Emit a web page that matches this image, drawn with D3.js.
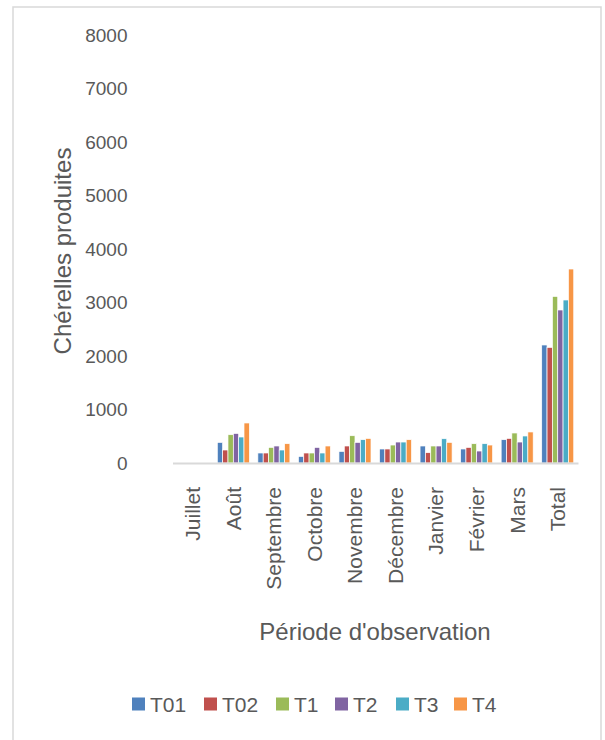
<html>

<head>
    <meta charset="utf-8">
    <script src="https://d3js.org/d3.v7.min.js"></script>
    <style>
        body { margin: 0; background: #fff; }
        text { font-family: "Liberation Sans", Arial, sans-serif; fill: #595959; }
    </style>
</head>

<body>
    <svg id="chartArea" width="605" height="740"></svg>
    <script>
        // months + total
        const categories = ["Juillet", "Août", "Septembre", "Octobre", "Novembre", "Décembre", "Janvier", "Février", "Mars", "Total"];
        const seriesNames = ["T01", "T02", "T1", "T2", "T3", "T4"];
        const colors = ["#4F81BD", "#C0504D", "#9BBB59", "#8064A2", "#4BACC6", "#F79646"];

        const T01 = [0, 385, 187, 123, 217, 262, 318, 262, 436, 2206];
        const T02 = [0, 243, 187, 187, 318, 262, 193, 292, 460, 2161];
        const T1 = [0, 529, 292, 187, 510, 336, 318, 361, 561, 3114];
        const T2 = [0, 553, 318, 292, 385, 392, 318, 224, 392, 2860];
        const T3 = [0, 486, 243, 187, 436, 392, 454, 361, 505, 3047];
        const T4 = [0, 748, 361, 318, 460, 436, 386, 336, 580, 3626];
        const yTicks = [0, 1000, 2000, 3000, 4000, 5000, 6000, 7000, 8000];

        const seriesValues = [T01, T02, T1, T2, T3, T4];

        const svg = d3.select("#chartArea");
        const margins = { top: 35, right: 27, bottom: 277, left: 172.5 };
        const width = +svg.attr("width");
        const height = +svg.attr("height");
        const chartWidth = width - margins.left - margins.right;
        const chartHeight = height - margins.top - margins.bottom;

        // outer frame
        svg.append("rect")
            .attr("x", 13).attr("y", 7)
            .attr("width", 588).attr("height", 740)
            .attr("fill", "none")
            .attr("stroke", "#d9d9d9")
            .attr("stroke-width", 1.5);

        let chartArea = svg.append("g")
            .attr("transform", `translate(${margins.left},${margins.top})`);

        const xScale = d3.scaleBand()
            .domain(categories)
            .range([0, chartWidth])
            .paddingInner(0.21)
            .paddingOuter(0.105);

        const subScale = d3.scaleBand()
            .domain(seriesNames)
            .range([0, xScale.bandwidth()]);

        const yScale = d3.scaleLinear()
            .domain([0, 8000])
            .range([chartHeight, 0]);

        // y tick labels (no axis line, no gridlines)
        const yAxis = d3.axisLeft(yScale).tickValues(yTicks).tickSize(0).tickPadding(45).tickFormat(d3.format("d"));
        chartArea.append("g")
            .call(yAxis)
            .call(g => g.select(".domain").remove())
            .selectAll("text")
            .attr("font-size", "19px")
            .attr("font-family", "\"Liberation Sans\", Arial, sans-serif")
            .attr("fill", "#595959");

        // bars
        const groups = chartArea.selectAll("g.cat").data(categories)
            .join("g")
            .attr("class", "cat")
            .attr("transform", d => `translate(${xScale(d)},0)`);

        groups.selectAll("rect.bar")
            .data((d, i) => seriesNames.map((s, j) => ({ series: s, value: seriesValues[j][i], color: colors[j] })))
            .join("rect")
            .attr("class", "bar")
            .attr("x", d => subScale(d.series))
            .attr("width", subScale.bandwidth())
            .attr("y", d => yScale(d.value))
            .attr("height", d => chartHeight - yScale(d.value))
            .attr("fill", d => d.color)
            .attr("stroke", "#fff")
            .attr("stroke-width", 0.7);

        // x axis baseline + rotated labels
        const xAxis = d3.axisBottom(xScale).tickSize(0).tickPadding(0);
        const xg = chartArea.append("g")
            .attr("transform", `translate(0,${chartHeight})`)
            .call(xAxis);
        xg.select(".domain")
            .attr("stroke", "#d9d9d9")
            .attr("stroke-width", 2);
        xg.selectAll("text")
            .attr("font-size", "21px")
            .attr("font-family", "\"Liberation Sans\", Arial, sans-serif")
            .attr("fill", "#595959")
            .attr("text-anchor", "end")
            .attr("dy", "0.35em")
            .attr("transform", "translate(0,24) rotate(-90)");

        // axis titles
        svg.append("text")
            .attr("transform", "translate(71,251) rotate(-90)")
            .attr("text-anchor", "middle")
            .attr("font-size", "24px")
            .text("Chérelles produites");

        svg.append("text")
            .attr("x", 375).attr("y", 640)
            .attr("text-anchor", "middle")
            .attr("font-size", "24px")
            .text("Période d'observation");

        // legend
        const legendX = [132, 204, 276, 335, 396, 454];
        const legend = svg.selectAll("g.legend").data(seriesNames)
            .join("g")
            .attr("class", "legend")
            .attr("transform", (d, i) => `translate(${legendX[i]},704)`);
        legend.append("rect")
            .attr("x", 0).attr("y", -6.5)
            .attr("width", 13).attr("height", 13)
            .attr("fill", (d, i) => colors[i]);
        legend.append("text")
            .attr("x", 18).attr("y", 0)
            .attr("dy", "0.36em")
            .attr("font-size", "21px")
            .text(d => d);
    </script>
</body>

</html>
